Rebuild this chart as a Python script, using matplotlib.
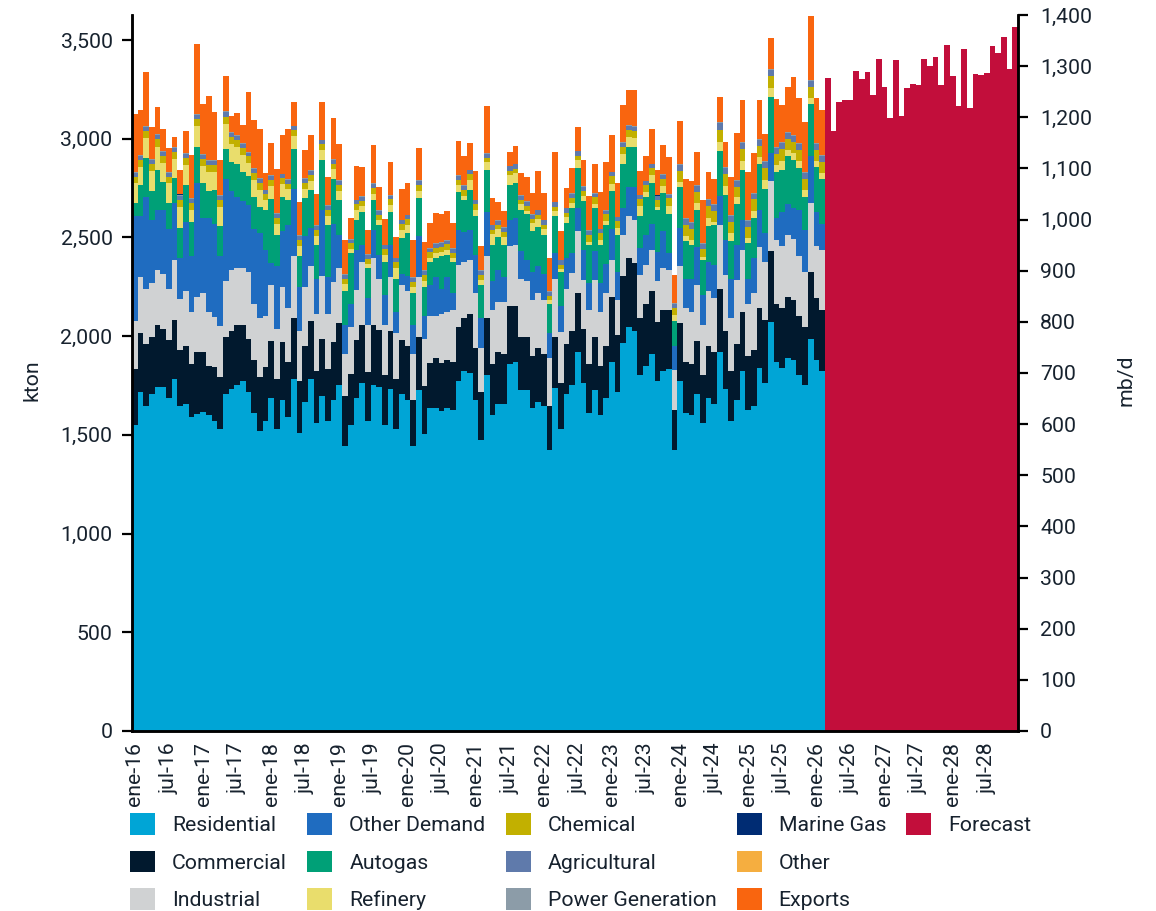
import matplotlib.pyplot as plt
from matplotlib.ticker import FuncFormatter
from matplotlib.patches import Rectangle
from matplotlib.transforms import ScaledTranslation

plt.rcParams['font.family'] = ['Roboto', 'DejaVu Sans']

# ---------------- data (kton, monthly, ene-16 .. feb-26) ----------------
residential = [1550, 1717, 1646, 1707, 1742, 1742, 1687, 1783, 1646, 1656,
               1590, 1606, 1616, 1601, 1570, 1530, 1707, 1732, 1752, 1773,
               1717, 1611, 1520, 1570, 1687, 1530, 1677, 1590, 1783, 1509,
               1666, 1783, 1560, 1697, 1570, 1677, 1752, 1444, 1550, 1687,
               1763, 1570, 1752, 1742, 1550, 1732, 1530, 1707, 1677, 1445,
               1727, 1504, 1636, 1636, 1621, 1636, 1626, 1773, 1823, 1813,
               1677, 1474, 1803, 1601, 1656, 1656, 1859, 1869, 1727, 1727,
               1636, 1666, 1646, 1423, 1737, 1530, 1707, 1752, 1920, 1763,
               1611, 1727, 1601, 1687, 1869, 1717, 1965, 2046, 2026, 1803,
               1849, 1910, 1773, 1823, 1834, 1423, 1773, 1611, 1601, 1707,
               1560, 1687, 1656, 1920, 1732, 1570, 1677, 1823, 1626, 1646,
               1839, 1763, 2072, 1869, 1839, 1889, 1879, 1803, 1752, 1985,
               1879, 1823]
commercial = [284, 299, 314, 289, 314, 294, 294, 299, 284, 294,
              268, 314, 304, 248, 274, 263, 289, 294, 304, 284,
              268, 268, 274, 274, 289, 253, 294, 279, 309, 263,
              284, 294, 263, 289, 263, 294, 314, 253, 258, 294,
              294, 248, 304, 289, 253, 294, 253, 274, 274, 233,
              268, 243, 228, 253, 243, 243, 243, 274, 268, 299,
              265, 243, 289, 258, 263, 253, 294, 284, 268, 268,
              263, 274, 263, 223, 258, 233, 253, 274, 299, 274,
              248, 268, 248, 263, 329, 289, 339, 349, 343, 289,
              314, 319, 299, 309, 299, 203, 294, 258, 258, 268,
              243, 263, 263, 319, 294, 253, 284, 299, 274, 284,
              304, 319, 360, 294, 304, 309, 304, 299, 294, 339,
              314, 309]
industrial = [240, 285, 280, 275, 279, 279, 260, 304, 260, 280,
              265, 280, 300, 275, 255, 260, 285, 309, 289, 289,
              339, 285, 300, 260, 285, 255, 280, 275, 314, 253,
              300, 279, 290, 316, 280, 305, 279, 214, 240, 250,
              319, 240, 339, 260, 255, 275, 235, 280, 275, 233,
              305, 240, 240, 214, 250, 245, 265, 314, 284, 274,
              277, 224, 314, 274, 253, 263, 304, 309, 294, 284,
              284, 279, 274, 243, 294, 258, 279, 294, 314, 248,
              274, 289, 274, 268, 187, 177, 208, 213, 219, 218,
              198, 208, 208, 213, 203, 203, 289, 274, 263, 284,
              253, 279, 274, 324, 284, 268, 324, 314, 263, 289,
              309, 294, 355, 324, 314, 314, 309, 304, 279, 349,
              263, 304]
other_demand = [535, 307, 464, 318, 304, 324, 302, 290, 206, 348,
                284, 576, 378, 475, 470, 355, 515, 400, 361, 336,
                339, 378, 429, 333, 111, 319, 279, 419, 339, 223,
                257, 192, 177, 338, 187, 292, 167, 147, 116, 206,
                86, 137, 142, 120, 149, 161, 106, 51, 76, 147,
                206, 116, 157, 198, 125, 177, 85, 177, 152, 152,
                192, 152, 223, 147, 162, 127, 132, 137, 142, 106,
                143, 137, 132, 127, 132, 132, 159, 101, 115, 152,
                135, 147, 145, 147, 157, 143, 137, 147, 167, 137,
                152, 132, 148, 187, 86, 122, 192, 147, 167, 192,
                152, 147, 167, 147, 177, 198, 177, 152, 127, 177,
                187, 147, 140, 111, 172, 157, 157, 233, 213, 238,
                172, 132]
autogas = [67, 157, 198, 147, 203, 142, 133, 125, 152, 187,
           171, 182, 177, 138, 169, 150, 152, 147, 166, 150,
           147, 164, 133, 203, 321, 155, 177, 127, 203, 157,
           192, 192, 171, 253, 262, 228, 177, 172, 257, 152,
           167, 150, 152, 152, 169, 167, 167, 186, 221, 161,
           192, 145, 115, 95, 167, 110, 157, 192, 162, 203,
           198, 166, 213, 182, 167, 162, 177, 177, 208, 233,
           206, 199, 198, 147, 187, 172, 176, 226, 204, 245,
           194, 218, 194, 198, 192, 186, 223, 203, 203, 162,
           192, 206, 211, 192, 198, 127, 208, 192, 172, 187,
           177, 182, 203, 228, 228, 192, 208, 253, 182, 203,
           233, 223, 285, 233, 213, 243, 243, 213, 167, 263,
           228, 228]
refinery = [97, 92, 99, 101, 117, 97, 97, 97, 104, 101,
            63, 107, 87, 95, 95, 97, 127, 92, 87, 87,
            67, 85, 85, 48, 69, 57, 62, 53, 63, 52,
            48, 48, 48, 48, 48, 48, 48, 32, 20, 48,
            28, 20, 33, 23, 33, 33, 52, 38, 38, 28,
            38, 33, 20, 23, 18, 23, 18, 33, 23, 48,
            28, 23, 38, 54, 39, 43, 49, 49, 29, 18,
            39, 38, 29, 19, 25, 16, 29, 29, 39, 29,
            15, 18, 23, 18, 38, 33, 48, 48, 45, 48,
            23, 40, 15, 38, 40, 30, 26, 26, 26, 37,
            16, 42, 16, 47, 47, 42, 32, 48, 26, 37,
            37, 47, 47, 37, 47, 32, 37, 37, 37, 32,
            32, 32]
chemical = [35, 34, 36, 35, 37, 35, 34, 35, 36, 35,
            33, 36, 35, 35, 34, 35, 37, 35, 34, 35,
            33, 35, 35, 30, 31, 30, 30, 29, 31, 30,
            30, 30, 30, 31, 30, 30, 30, 29, 28, 30,
            29, 28, 30, 29, 30, 30, 31, 30, 30, 29,
            30, 30, 28, 29, 29, 30, 29, 30, 29, 31,
            30, 29, 22, 23, 22, 22, 23, 23, 22, 21,
            22, 22, 22, 21, 22, 21, 22, 22, 23, 22,
            35, 35, 36, 35, 37, 36, 38, 38, 37, 36,
            35, 36, 34, 36, 37, 35, 55, 56, 55, 57,
            40, 57, 55, 60, 58, 57, 55, 58, 55, 56,
            56, 57, 58, 56, 57, 55, 56, 56, 56, 55,
            55, 55]
agricultural = [20, 20, 20, 20, 21, 20, 20, 20, 20, 20,
                19, 20, 20, 20, 20, 20, 21, 20, 20, 20,
                19, 20, 20, 20, 20, 20, 20, 20, 20, 20,
                20, 20, 20, 20, 20, 20, 20, 20, 19, 20,
                20, 19, 20, 20, 20, 20, 20, 20, 20, 20,
                20, 20, 19, 20, 20, 20, 20, 20, 20, 20,
                20, 20, 22, 22, 22, 22, 22, 22, 22, 22,
                22, 22, 22, 21, 22, 21, 22, 22, 22, 22,
                20, 20, 20, 20, 21, 20, 20, 20, 20, 20,
                20, 20, 20, 20, 20, 20, 30, 30, 30, 30,
                25, 30, 30, 32, 30, 30, 30, 30, 30, 30,
                30, 30, 31, 30, 30, 30, 30, 30, 30, 30,
                30, 30]
power_generation = [5, 5, 5, 5, 5, 5, 5, 5, 5, 5,
                    5, 5, 5, 5, 5, 5, 5, 5, 5, 5,
                    5, 5, 5, 3, 3, 3, 3, 3, 3, 3,
                    3, 3, 3, 3, 3, 3, 3, 3, 3, 3,
                    3, 3, 3, 3, 3, 3, 3, 3, 3, 3,
                    3, 3, 3, 3, 3, 3, 3, 3, 3, 3,
                    3, 3, 3, 3, 3, 3, 3, 3, 3, 3,
                    3, 3, 3, 3, 3, 3, 3, 3, 3, 3,
                    3, 3, 3, 3, 3, 3, 3, 3, 3, 3,
                    3, 3, 3, 3, 3, 3, 5, 5, 5, 5,
                    5, 5, 5, 5, 5, 5, 5, 5, 5, 5,
                    5, 5, 5, 5, 5, 5, 5, 5, 5, 5,
                    5, 5]
marine_gas = [0, 0, 0, 0, 0, 0, 0, 0, 5, 0,
              0, 0, 0, 0, 0, 0, 0, 0, 0, 0,
              0, 0, 0, 0, 0, 0, 0, 0, 0, 0,
              0, 0, 0, 0, 0, 0, 0, 0, 0, 0,
              0, 0, 0, 0, 0, 0, 0, 0, 0, 0,
              0, 0, 0, 0, 0, 0, 0, 0, 0, 0,
              0, 0, 0, 0, 0, 0, 0, 0, 0, 0,
              0, 0, 0, 0, 0, 0, 0, 0, 0, 0,
              0, 0, 0, 0, 0, 0, 0, 0, 0, 0,
              0, 0, 5, 0, 0, 0, 0, 0, 0, 0,
              0, 0, 0, 0, 0, 0, 0, 0, 0, 0,
              0, 0, 0, 0, 0, 0, 0, 0, 0, 0,
              0, 0]
other = [0] * 122
exports = [291, 228, 274, 164, 137, 111, 120, 51, 125, 113,
           221, 355, 253, 324, 243, 177, 177, 81, 111, 91,
           304, 243, 248, 85, 164, 224, 198, 253, 122, 169,
           142, 177, 157, 192, 143, 208, 182, 172, 106, 174,
           147, 122, 192, 118, 132, 167, 106, 157, 162, 187,
           162, 142, 127, 152, 142, 147, 127, 172, 147, 137,
           147, 122, 240, 137, 91, 83, 71, 91, 111, 122,
           106, 198, 137, 167, 252, 147, 101, 128, 122, 135,
           177, 147, 187, 243, 187, 172, 187, 177, 181, 122,
           127, 177, 127, 147, 186, 145, 218, 198, 208, 167,
           218, 137, 127, 127, 127, 192, 238, 216, 243, 198,
           198, 137, 157, 243, 187, 228, 294, 228, 253, 324,
           228, 228]

# forecast, mar-26 .. dic-28 (kton)
forecast = [3309, 3039, 3187, 3196, 3196, 3344, 3302, 3339, 3221, 3404,
            3262, 3106, 3399, 3115, 3255, 3277, 3272, 3404, 3368, 3414,
            3272, 3475, 3318, 3166, 3454, 3156, 3328, 3323, 3333, 3470,
            3436, 3515, 3353, 3567]

tick_labels = ['ene-16', 'jul-16', 'ene-17', 'jul-17', 'ene-18', 'jul-18',
               'ene-19', 'jul-19', 'ene-20', 'jul-20', 'ene-21', 'jul-21',
               'ene-22', 'jul-22', 'ene-23', 'jul-23', 'ene-24', 'jul-24',
               'ene-25', 'jul-25', 'ene-26', 'jul-26', 'ene-27', 'jul-27',
               'ene-28', 'jul-28']

series = [
    ('Residential', residential, '#00A5D6'),
    ('Commercial', commercial, '#01192E'),
    ('Industrial', industrial, '#D0D2D3'),
    ('Other Demand', other_demand, '#1F6CC0'),
    ('Autogas', autogas, '#00A077'),
    ('Refinery', refinery, '#E9DD6C'),
    ('Chemical', chemical, '#C2B000'),
    ('Agricultural', agricultural, '#5F7AAB'),
    ('Power Generation', power_generation, '#8C9CA8'),
    ('Marine Gas', marine_gas, '#002C73'),
    ('Other', other, '#F5AE40'),
    ('Exports', exports, '#F9650F'),
]
kton_per_mbd = 2.5904
text_color = '#17222E'
fs = 15.3

# ---------------- plot ----------------
fig = plt.figure(figsize=(11.56, 9.11), dpi=100)
ax = fig.add_axes([0.1142, 0.1976, 0.7664, 0.786])

hist_x = list(range(len(residential)))
fc_x = list(range(len(residential), len(residential) + len(forecast)))

handles = {}
bottom = [0.0] * len(hist_x)
for name, vals, col in series:
    b = ax.bar(hist_x, vals, width=1.0, bottom=bottom, color=col,
               linewidth=0, antialiased=False, label=name)
    handles[name] = b
    bottom = [p + v for p, v in zip(bottom, vals)]
handles['Forecast'] = ax.bar(fc_x, forecast, width=1.0, color='#C20E3B',
                             linewidth=0, antialiased=False, label='Forecast')

ax.set_xlim(-0.5, fc_x[-1] + 0.5)
ax.set_ylim(0, 1400 * kton_per_mbd)
ax.set_yticks(range(0, 3501, 500))
ax.yaxis.set_major_formatter(FuncFormatter(lambda v, p: '{:,.0f}'.format(v)))
ax.set_xticks(range(0, len(hist_x) + len(fc_x), 6))
ax.set_xticklabels(tick_labels, rotation=90)
shift = ScaledTranslation(3 / 100, 0, fig.dpi_scale_trans)
for lab in ax.get_xticklabels():
    lab.set_transform(lab.get_transform() + shift)

ax2 = ax.twinx()
ax2.set_ylim(0, 1400)
ax2.set_yticks(range(0, 1401, 100))
ax2.yaxis.set_major_formatter(FuncFormatter(lambda v, p: '{:,.0f}'.format(v)))

for a in (ax, ax2):
    a.spines['top'].set_visible(False)
    for s in ('left', 'right', 'bottom'):
        a.spines[s].set_linewidth(1.8)
        a.spines[s].set_color('black')
ax.tick_params(axis='y', length=7, width=1.6, pad=7, labelsize=fs,
               labelcolor=text_color)
ax.tick_params(axis='x', length=0, pad=8, labelsize=fs, labelcolor=text_color)
ax2.tick_params(axis='y', length=7, width=1.6, pad=9, labelsize=fs,
                labelcolor=text_color)

ax.set_ylabel('kton', fontsize=fs, color=text_color)
ax.yaxis.set_label_coords(-0.102, 0.49)
ax2.set_ylabel('mb/d', fontsize=fs, color=text_color)
ax2.yaxis.set_label_coords(1.111, 0.49)

order = ['Residential', 'Commercial', 'Industrial',
         'Other Demand', 'Autogas', 'Refinery',
         'Chemical', 'Agricultural', 'Power Generation',
         'Marine Gas', 'Other', 'Exports', 'Forecast', '', '']
blank = Rectangle((0, 0), 1, 1, fill=False, edgecolor='none', linewidth=0)
leg_handles = [handles[n] if n else blank for n in order]
fig.legend(leg_handles, order, ncol=5, frameon=False,
           loc='upper left', bbox_to_anchor=(0.1125, 0.1075), fontsize=fs,
           labelcolor=text_color, handlelength=1.18, handleheight=1.18,
           handletextpad=0.8, columnspacing=0.95, labelspacing=0.74,
           borderpad=0, borderaxespad=0)

fig.savefig('out.png', dpi=100)
